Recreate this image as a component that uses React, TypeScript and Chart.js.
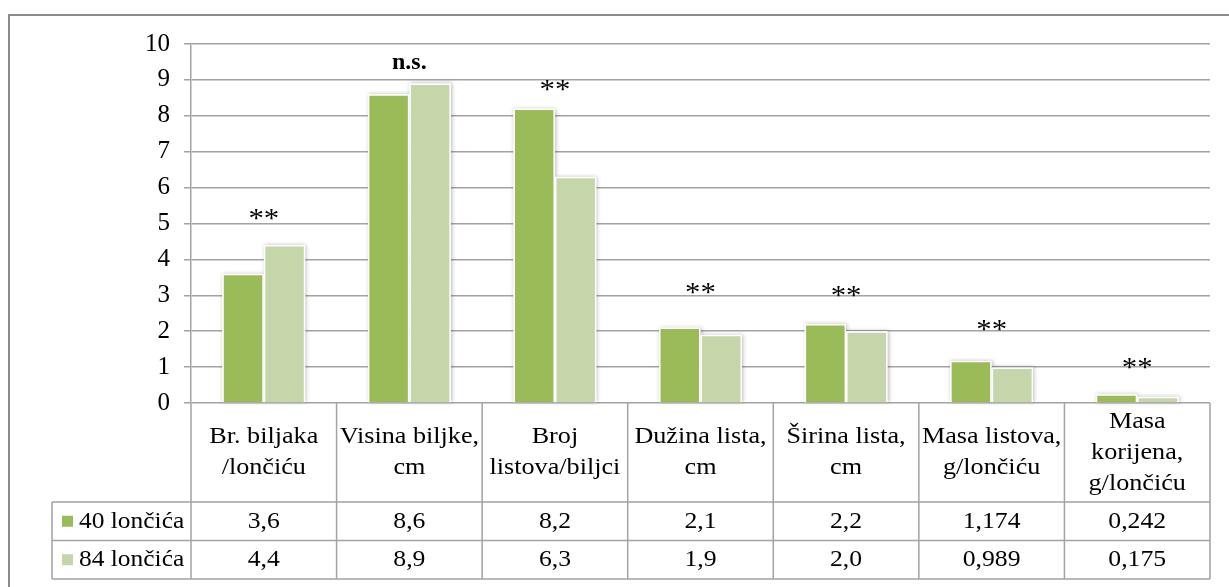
import React, { useEffect, useRef } from "react";
import { Chart, registerables } from "chart.js";

Chart.register(...registerables);

// ---- data ----
const categories: string[][] = [
  ["Br. biljaka", "/lončiću"],
  ["Visina biljke,", "cm"],
  ["Broj", "listova/biljci"],
  ["Dužina lista,", "cm"],
  ["Širina lista,", "cm"],
  ["Masa listova,", "g/lončiću"],
  ["Masa", "korijena,", "g/lončiću"],
];
const seriesNames = ["40 lončića", "84 lončića"];
const values40 = [3.6, 8.6, 8.2, 2.1, 2.2, 1.174, 0.242];
const values84 = [4.4, 8.9, 6.3, 1.9, 2.0, 0.989, 0.175];
const decimals = [1, 1, 1, 1, 1, 3, 3];
const sigLabels = ["**", "n.s.", "**", "**", "**", "**", "**"];
const sigLevels = [5.25, 9.45, 8.85, 3.2, 3.1, 2.15, 1.1];
const yTicks = [0, 10, 1]; // min, max, step

const COLORS = ["#9BBB59", "#C5D6AB"];
const FONT = "'Liberation Serif', 'Times New Roman', serif";
const LINE = "#a3a3a3";
const SX = 1.09;

const fmt = (v: number, d: number) => v.toFixed(d).replace(".", ",");

function drawText(ctx: CanvasRenderingContext2D, t: string, x: number, y: number, sx: number) {
  ctx.save();
  ctx.translate(x, y);
  ctx.scale(sx, 1);
  ctx.fillText(t, 0, 0);
  ctx.restore();
}

const tablePlugin = {
  id: "tablePlugin",
  beforeDraw(chart: any) {
    const ctx = chart.ctx;
    ctx.save();
    ctx.fillStyle = "#ffffff";
    ctx.fillRect(0, 0, chart.width, chart.height);
    ctx.strokeStyle = "#8c8c8c";
    ctx.lineWidth = 2;
    ctx.beginPath();
    ctx.moveTo(9, chart.height + 5);
    ctx.lineTo(9, 15);
    ctx.lineTo(chart.width + 5, 15);
    ctx.stroke();
    ctx.restore();
  },
  beforeDatasetsDraw(chart: any) {
    const ctx = chart.ctx;
    ctx.save();
    ctx.shadowColor = "rgba(0,0,0,0.28)";
    ctx.shadowBlur = 4;
    ctx.shadowOffsetX = 1;
    ctx.shadowOffsetY = 0;
    ctx.fillStyle = "#ffffff";
    chart.data.datasets.forEach((_: any, di: number) => {
      const meta = chart.getDatasetMeta(di);
      meta.data.forEach((bar: any) => {
        const p = bar.getProps(["x", "y", "base", "width"], true);
        ctx.fillRect(p.x - p.width / 2, p.y, p.width, p.base - p.y);
      });
    });
    ctx.restore();
  },
  afterDraw(chart: any) {
    const ctx = chart.ctx;
    const area = chart.chartArea;
    const xs = chart.scales.x;
    const ys = chart.scales.y;
    const n = categories.length;
    const colW = (area.right - area.left) / n;
    const top = area.bottom;
    const headerH = 99;
    const rowH = 38.5;
    const r1 = top + headerH;
    const r2 = r1 + rowH;
    const r3 = r2 + rowH;
    const legLeft = 52;

    ctx.save();
    ctx.strokeStyle = LINE;
    ctx.lineWidth = 1.5;
    ctx.beginPath();
    for (let i = 0; i <= n; i++) {
      const x = area.left + i * colW;
      ctx.moveTo(x, top);
      ctx.lineTo(x, r3);
    }
    ctx.moveTo(legLeft, r1);
    ctx.lineTo(legLeft, r3);
    [r1, r2, r3].forEach((y) => {
      ctx.moveTo(legLeft, y);
      ctx.lineTo(area.right, y);
    });
    ctx.stroke();

    ctx.fillStyle = "#000";
    ctx.font = `24px ${FONT}`;
    ctx.textAlign = "center";
    ctx.textBaseline = "middle";
    const lh = 31;
    categories.forEach((lines, i) => {
      const cx = xs.getPixelForValue(i);
      const mid = top + headerH / 2;
      lines.forEach((t, k) => {
        const y = mid + (k - (lines.length - 1) / 2) * lh;
        drawText(ctx, t, cx, y, SX);
      });
      drawText(ctx, fmt(values40[i], decimals[i]), cx, r1 + rowH / 2, 1.07);
      drawText(ctx, fmt(values84[i], decimals[i]), cx, r2 + rowH / 2, 1.07);
    });

    // legend keys
    ctx.textAlign = "left";
    [r1, r2].forEach((ry, k) => {
      const cy = ry + rowH / 2;
      ctx.fillStyle = COLORS[k];
      ctx.fillRect(62, cy - 5.5, 11, 11);
      ctx.fillStyle = "#000";
      drawText(ctx, seriesNames[k], 79, cy, 1.06);
    });

    // significance labels
    ctx.textAlign = "center";
    ctx.textBaseline = "alphabetic";
    sigLabels.forEach((s, i) => {
      ctx.font = s === "n.s." ? `bold 24px ${FONT}` : `28px ${FONT}`;
      const m = ctx.measureText(s);
      const py = ys.getPixelForValue(sigLevels[i]);
      const base = py + (m.actualBoundingBoxAscent - m.actualBoundingBoxDescent) / 2;
      drawText(ctx, s, xs.getPixelForValue(i), base, s === "n.s." ? 1.0 : 1.1);
    });
    ctx.restore();
  },
};

export default function App() {
  const ref = useRef<HTMLCanvasElement>(null);
  useEffect(() => {
    if (!ref.current) return;
    const chart = new Chart(ref.current, {
      type: "bar",
      data: {
        labels: categories.map((c) => c.join(" ")),
        datasets: [
          {
            label: seriesNames[0],
            data: values40,
            backgroundColor: COLORS[0],
            borderColor: "#ffffff",
            borderWidth: 1.5,
          },
          {
            label: seriesNames[1],
            data: values84,
            backgroundColor: COLORS[1],
            borderColor: "#ffffff",
            borderWidth: 1.5,
          },
        ],
      },
      options: {
        animation: false,
        responsive: false,
        maintainAspectRatio: false,
        devicePixelRatio: 1,
        layout: { padding: { left: 0, right: 19, top: 44, bottom: 184 } },
        datasets: { bar: { categoryPercentage: 0.57, barPercentage: 1.0 } },
        plugins: {
          legend: { display: false },
          tooltip: { enabled: false },
          title: { display: false },
        },
        scales: {
          x: { display: false },
          y: {
            min: yTicks[0],
            max: yTicks[1],
            afterFit: (s: any) => {
              s.width = 191;
            },
            ticks: {
              stepSize: yTicks[2],
              padding: 14,
              color: "#000",
              font: { family: FONT, size: 25 },
            },
            grid: { color: LINE, lineWidth: 1.5, tickLength: 7, drawTicks: true },
            border: { display: true, color: LINE, width: 1.5 },
          },
        },
      },
      plugins: [tablePlugin],
    });
    return () => chart.destroy();
  }, []);
  return (
    <div style={{ position: "fixed", left: 0, top: 0, width: 1229, height: 587, background: "#fff" }}>
      <canvas ref={ref} width={1229} height={587} style={{ display: "block", width: 1229, height: 587 }} />
    </div>
  );
}
